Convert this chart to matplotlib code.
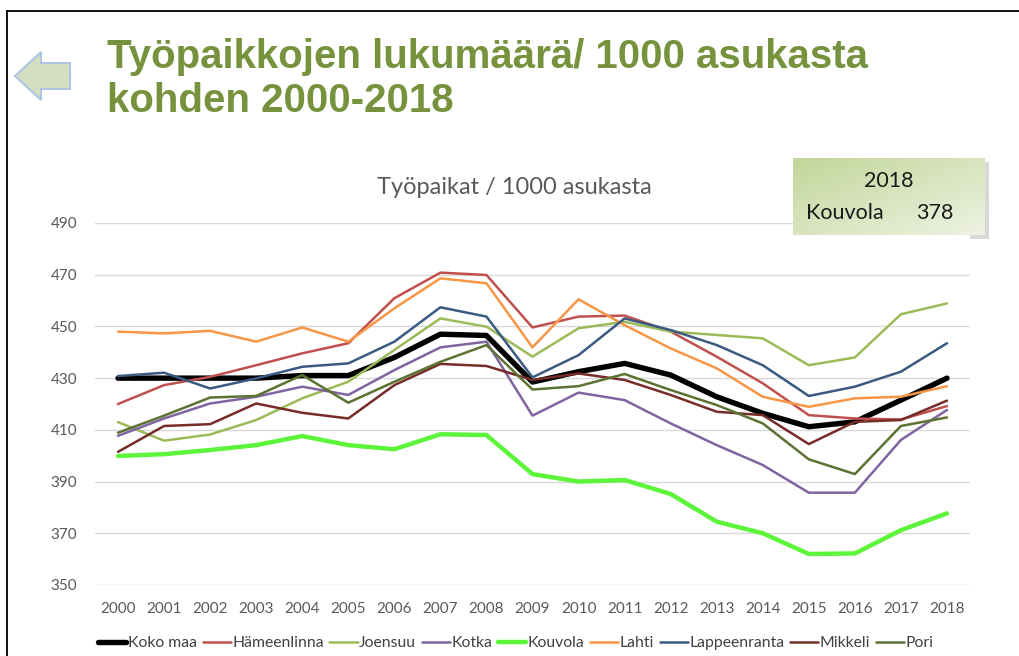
import numpy as np
import matplotlib
matplotlib.use("Agg")
import matplotlib.pyplot as plt
from matplotlib.colors import LinearSegmentedColormap
from matplotlib.patches import Polygon, Rectangle
from matplotlib.lines import Line2D

W, H = 1019, 656

years = [str(y) for y in range(2000, 2019)]

koko_maa = [430, 430, 430, 430, 431, 431, 438, 447, 446.5, 428.5, 432.5, 435.7, 431.2, 422.8, 416.4, 411.2, 413.1, 421.5, 430]
hameenlinna = [420, 427.3, 430.5, 435, 439.6, 443.5, 460.9, 470.8, 469.9, 449.6, 453.8, 454.2, 448, 438.3, 428, 415.7, 414.4, 414, 419.2]
joensuu = [413, 405.8, 408.2, 413.8, 422.2, 428.6, 440.9, 453.1, 449.9, 438.3, 449.3, 451.8, 448, 446.7, 445.4, 435, 438, 454.7, 458.9]
kotka = [407.7, 414.4, 420.2, 422.8, 426.7, 423.5, 433.1, 441.9, 444.1, 415.5, 424.4, 421.5, 412.5, 404.1, 396.4, 385.7, 385.7, 406.1, 417.7]
kouvola = [399.9, 400.6, 402.2, 404.1, 407.6, 404.1, 402.5, 408.3, 408, 392.9, 390, 390.6, 385.2, 374.5, 370, 362, 362.2, 371.2, 377.7]
lahti = [448, 447.3, 448.3, 444.1, 449.6, 444.1, 457, 468.6, 466.7, 441.9, 460.5, 450.5, 441.5, 433.8, 422.8, 418.9, 422.2, 422.8, 426.9]
lappeenranta = [430.8, 432.1, 426, 429.9, 434.4, 435.7, 444.1, 457.4, 453.8, 430.3, 438.9, 453.1, 448.6, 442.8, 435, 423.1, 426.7, 432.5, 443.5]
mikkeli = [401.5, 411.5, 412.2, 420.2, 416.6, 414.4, 427.3, 435.5, 434.7, 429.3, 431.8, 429.3, 423.5, 417, 415.7, 404.5, 413.1, 413.8, 421.3]
pori = [408.9, 415.5, 422.5, 423.1, 431.2, 420.5, 428.6, 436.3, 442.8, 425.6, 426.9, 431.6, 425.4, 419.6, 412.5, 398.6, 392.9, 411.5, 414.8]

series = [
    ("Koko maa", koko_maa, "#000000", 3.9),
    ("Hämeenlinna", hameenlinna, "#C0504D", 1.8),
    ("Joensuu", joensuu, "#9BBB59", 1.8),
    ("Kotka", kotka, "#8064A2", 1.8),
    ("Kouvola", kouvola, "#5CF53A", 3.2),
    ("Lahti", lahti, "#F79646", 1.8),
    ("Lappeenranta", lappeenranta, "#3A5A82", 1.8),
    ("Mikkeli", mikkeli, "#772C2A", 1.8),
    ("Pori", pori, "#5C7232", 1.8),
]
yticks = [350, 370, 390, 410, 430, 450, 470, 490]

CHART_FONT = ["Lato", "DejaVu Sans"]
GREY = "#595959"


def fx(px):
    return px / W


def fy(py):
    return 1 - py / H


fig = plt.figure(figsize=(W / 100, H / 100), dpi=100)
fig.patch.set_facecolor("white")

# slide border (top and left edges)
fig.add_artist(Line2D([fx(7), 1], [fy(11), fy(11)], color="black", lw=1.3))
fig.add_artist(Line2D([fx(7), fx(7)], [fy(11), 0], color="black", lw=1.3))

# back arrow
arrow = [(15, 76), (41, 52), (41, 63), (70, 63), (70, 89), (41, 89), (41, 100)]
fig.add_artist(Polygon([(fx(x), fy(y)) for x, y in arrow], closed=True,
                       transform=fig.transFigure, facecolor="#D3DFBF",
                       edgecolor="#AFC6E3", lw=1.5))

# slide title
title_font = ["Liberation Sans Narrow", "Liberation Sans", "DejaVu Sans"]
fig.text(fx(107), fy(68), "Työpaikkojen lukumäärä/ 1000 asukasta",
         family=title_font, weight="bold", fontsize=29, color="#76923C",
         va="baseline")
fig.text(fx(107), fy(112), "kohden 2000-2018",
         family=title_font, weight="bold", fontsize=29, color="#76923C",
         va="baseline")

# chart
ax = fig.add_axes([fx(95), fy(585), fx(970) - fx(95), fy(223) - fy(585)])
x = np.arange(len(years))
for name, vals, col, lw in series:
    ax.plot(x, vals, color=col, lw=lw, label=name, solid_capstyle="round",
            solid_joinstyle="round")
ax.set_xlim(-0.5, len(years) - 0.5)
ax.set_ylim(350, 490)
ax.set_yticks(yticks)
ax.set_xticks(x)
ax.set_xticklabels(years)
ax.grid(axis="y", color="#D9D9D9", lw=1)
ax.set_axisbelow(True)
for s in ax.spines.values():
    s.set_visible(False)
ax.tick_params(length=0, labelsize=11, labelcolor=GREY)
ax.tick_params(axis="x", pad=12)
ax.tick_params(axis="y", pad=13)
for lab in ax.get_xticklabels() + ax.get_yticklabels():
    lab.set_family(CHART_FONT)

fig.text(fx(514), fy(188), "Työpaikat / 1000 asukasta", family=CHART_FONT,
         fontsize=17, color=GREY, ha="center", va="center")

leg = fig.legend(loc="center", bbox_to_anchor=(fx(516), fy(643)), ncol=9,
                 frameon=False, handlelength=1.8, handletextpad=0.1,
                 columnspacing=0.35, prop={"family": CHART_FONT, "size": 11.3})
for t in leg.get_texts():
    t.set_color("#404040")

# info box with shadow
bx0, by0, bx1, by1 = 793, 158, 985, 235
fig.add_artist(Rectangle((fx(bx0 + 4), fy(by1 + 4)), fx(bx1 - bx0), fy(by0) - fy(by1),
                         transform=fig.transFigure, facecolor="#C8C8C8",
                         edgecolor="none", alpha=0.7, zorder=-1))
bax = fig.add_axes([fx(bx0), fy(by1), fx(bx1 - bx0), fy(by0) - fy(by1)], zorder=5)
gx, gy = np.meshgrid(np.linspace(0, 1, 60), np.linspace(0, 1, 30))
grad = (gx + gy) / 2
bax.imshow(grad, cmap=LinearSegmentedColormap.from_list("g", ["#C3D69B", "#EDF2E1"]),
           aspect="auto", extent=[0, 1, 0, 1], origin="upper")
bax.set_axis_off()
bax.text(0.5, 0.70, "2018", ha="center", va="center", fontsize=15.5,
         family=CHART_FONT, color="#1A1A1A", transform=bax.transAxes)
bax.text(0.07, 0.29, "Kouvola", ha="left", va="center", fontsize=15.5,
         family=CHART_FONT, color="#1A1A1A", transform=bax.transAxes)
bax.text(0.835, 0.29, "378", ha="right", va="center", fontsize=15.5,
         family=CHART_FONT, color="#1A1A1A", transform=bax.transAxes)

fig.savefig("out.png", dpi=100)
